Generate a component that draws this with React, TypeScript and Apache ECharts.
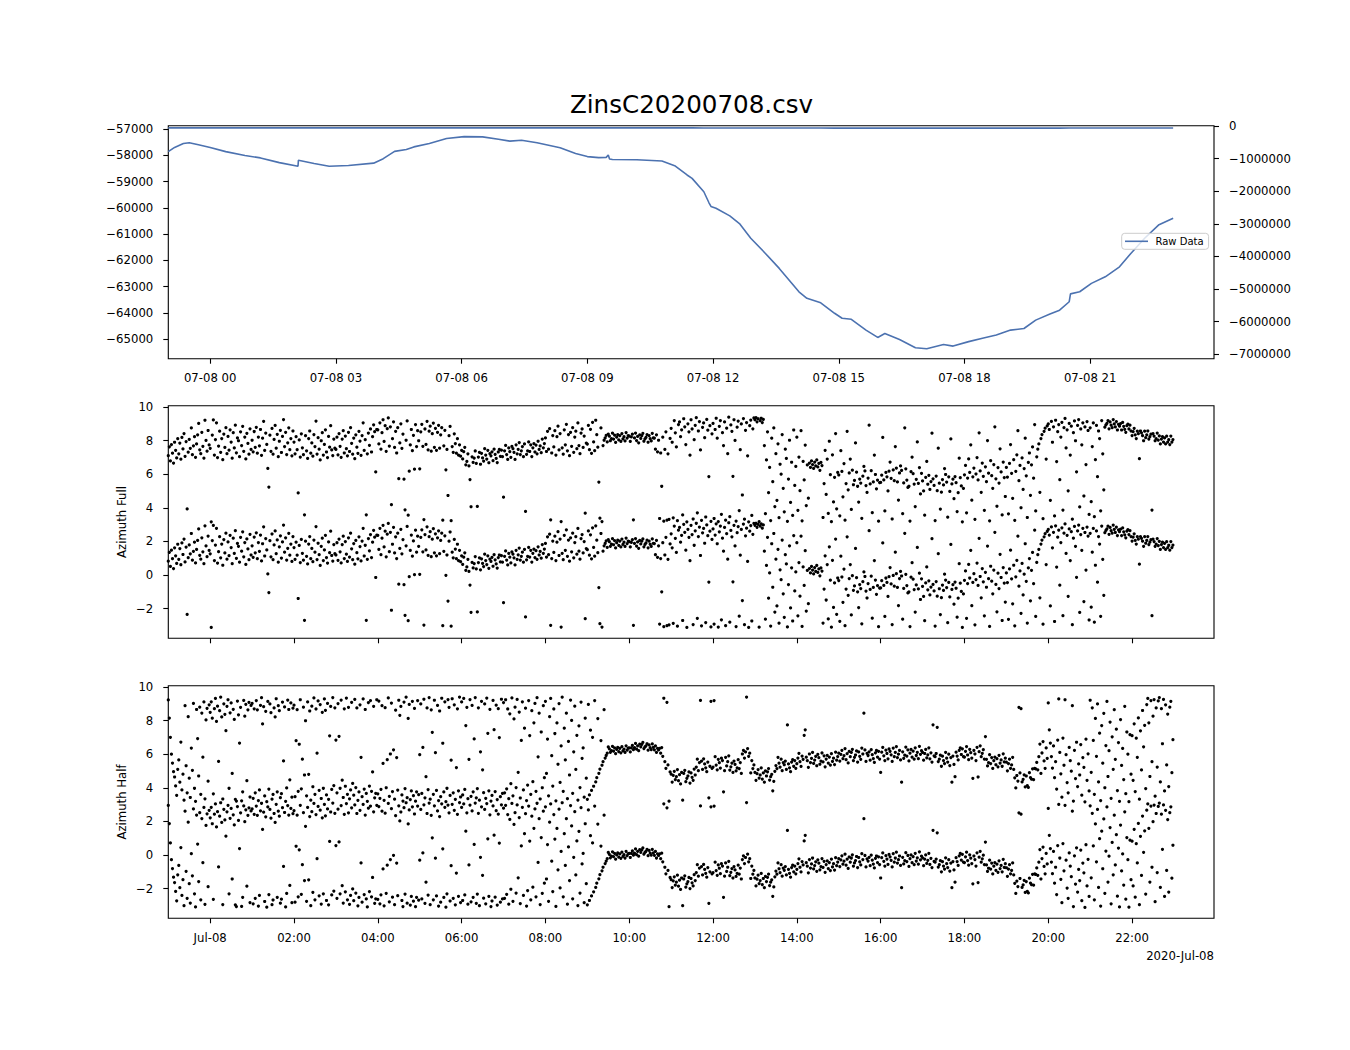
import React, { useEffect, useRef } from "react";
import * as echarts from "echarts";

const TITLE = "ZinsC20200708.csv";
const SERIES_NAME = "Raw Data";
const DATE_OFFSET_LABEL = "2020-Jul-08";
const Y_LABEL_FULL = "Azimuth Full";
const Y_LABEL_HALF = "Azimuth Half";

// hours relative to 2020-07-08 00:00
const RAW_HOURS = [
  -1.0, -0.85, -0.64, -0.5, -0.28, 0.0, 0.37, 0.83, 1.2, 1.65, 2.095, 2.105, 2.48, 2.84, 3.3, 3.9,
  4.13, 4.4, 4.68, 4.86, 5.23, 5.64, 6.06, 6.5, 6.88, 7.15, 7.43, 7.8, 8.35, 8.72, 9.0, 9.27, 9.45,
  9.5, 9.53, 9.6, 10.18, 10.78, 11.1, 11.38, 11.5, 11.78, 11.9, 11.95, 12.07, 12.4, 12.63, 12.9,
  13.25, 13.58, 14.05, 14.24, 14.57, 14.9, 15.08, 15.3, 15.65, 15.93, 16.1, 16.45, 16.83, 17.1,
  17.5, 17.73, 18.1, 18.43, 18.76, 19.1, 19.42, 19.7, 20.04, 20.27, 20.5, 20.53, 20.75, 21.03,
  21.36, 21.7, 21.97, 22.3, 22.63, 22.98,
];
const RAW_VALUES = [
  -57860, -57700, -57550, -57520, -57600, -57700, -57860, -58010, -58100, -58280, -58420, -58190,
  -58310, -58420, -58390, -58300, -58130, -57850, -57780, -57680, -57550, -57360, -57290, -57300,
  -57390, -57460, -57430, -57520, -57710, -57930, -58050, -58090, -58080, -57990, -58140, -58160,
  -58170, -58220, -58410, -58750, -58880, -59390, -59800, -59950, -60020, -60310, -60600, -61160,
  -61740, -62310, -63200, -63450, -63620, -64020, -64210, -64250, -64660, -64940, -64790, -65020,
  -65330, -65370, -65210, -65270, -65100, -64970, -64850, -64660, -64600, -64280, -64050, -63900,
  -63580, -63280, -63200, -62880, -62630, -62250, -61740, -61160, -60660, -60400,
];

const TOP_TICK_HOURS = [0, 3, 6, 9, 12, 15, 18, 21];
const TOP_TICK_LABELS = ["07-08 00", "07-08 03", "07-08 06", "07-08 09", "07-08 12", "07-08 15", "07-08 18", "07-08 21"];
const LOW_TICK_HOURS = [0, 2, 4, 6, 8, 10, 12, 14, 16, 18, 20, 22];
const LOW_TICK_LABELS = ["Jul-08", "02:00", "04:00", "06:00", "08:00", "10:00", "12:00", "14:00", "16:00", "18:00", "20:00", "22:00"];
const LEFT_TICKS = [-65000, -64000, -63000, -62000, -61000, -60000, -59000, -58000, -57000];
const RIGHT_TICKS = [-7000000, -6000000, -5000000, -4000000, -3000000, -2000000, -1000000, 0];
const AZ_TICKS = [-2, 0, 2, 4, 6, 8, 10];

// azimuth samples (radians, in [-pi, pi]) grouped per hour, first row = hour -1 (07-07 23:00)
const FIRST_HOUR = -1;
const AZ_FULL = [
  [0.82, 1.35, 0.51, 1.48, 0.97, 0.38, 1.62, 1.14, 0.69, 1.83, 0.93, 1.57, 0.61, 1.91, 1.22, 2.14, 0.78, 1.66, -2.35, 1.03, 1.79, 1.26, 2.47, 0.88, 1.41, 1.95, 0.72, 1.52, 2.06, 2.74, 1.17, 0.94, 2.21, 1.38, 0.67, 2.93, 1.73, 1.09, 2.32, 1.46],
  [1.26, -3.12, 2.05, 2.95, 0.86, 1.78, 2.78, 0.71, 1.39, 2.28, 1.02, 1.84, 0.58, 2.11, 1.31, 2.49, 0.94, 1.97, 1.15, 2.36, 1.63, 0.67, 2.19, 1.28, 2.64, 0.99, 1.88, 1.71, 0.76, 2.24, 1.42, 2.57, 1.08, 1.93, 0.63, 2.15, 1.55, 0.91, 2.42, 1.19],
  [1.74, 1.05, 2.26, 1.32, 2.51, 0.97, 1.93, 1.41, 2.38, 0.84, 1.86, 2.87, 1.13, 2.17, 1.49, 0.06, -1.05, 2.04, 1.08, 2.44, 0.91, 1.79, 2.62, 1.27, 2.09, 0.76, 1.68, 2.33, 1.01, 1.97, 2.97, 1.36, 2.21, 0.89, 1.59, 2.48, 1.18, 1.84, 0.81, 2.29],
  [1.63, 0.93, 1.95, 1.18, -1.4, 1.76, 0.74, 2.12, 1.29, 0.88, -2.7, 2.01, 1.11, 0.66, 1.84, 2.29, 0.97, 1.58, 0.79, 2.08, 1.36, 2.88, 0.92, 1.89, 1.21, 0.57, 1.71, 2.19, 0.86, 1.49, 2.36, 1.04, 0.71, 1.97, 1.33, 2.61, 1.16, 0.83, 1.81, 1.27],
  [1.19, 1.92, 0.87, 2.14, 1.38, 0.72, 1.81, 2.31, 0.98, 1.99, 1.24, 0.81, 2.21, 1.07, 2.49, 1.56, 0.91, 1.87, 0.64, 2.06, 1.33, 0.96, 2.27, 1.69, 0.84, 2.02, 2.78, 1.13, 1.77, -2.7, 0.93, 2.17, 1.44, 2.41, 1.04, 1.95, 2.66, 2.25, -0.15, 2.38],
  [2.36, 1.52, 2.78, 1.21, 2.19, 2.96, 1.67, 2.61, 1.08, 2.43, 3.07, 1.39, 2.54, -2.1, 1.83, 2.84, 1.31, 2.27, 0.98, 2.49, -0.55, 1.58, 2.72, 1.26, 2.11, -0.58, -2.4, 1.74, 2.89, -2.72, -0.1, 1.46, 2.38, 1.12, 2.03, 0.02, 2.67, 1.36, 2.31, 1.71],
  [0.04, 2.24, 2.69, 1.38, -2.98, 2.41, 1.49, 2.87, 1.17, 2.28, 2.58, 1.09, 2.13, 2.76, 1.32, 2.45, 1.14, 2.21, 2.63, 1.27, 2.06, 2.49, -3.02, 1.41, 2.33, -0.02, 1.19, -1.55, 2.01, 2.56, -3.05, 1.36, 1.02, 2.12, 1.54, 0.97, 1.83, 0.86, 1.47, 0.79],
  [1.14, 0.63, 1.06, 1.32, 0.28, 0.48, 0.93, 0.21, -0.6, -2.22, 0.75, 0.42, 0.68, 1.1, 0.36, -2.2, 0.74, 1.02, 0.31, 0.96, 0.69, 0.5, 1.24, 0.86, 0.62, 1.14, 0.4, 0.94, 0.81, 1.05, 0.52, 1.21, 0.9, 0.66, 0.41, 1.04, 1.19, 0.78, 1.15, 0.76],
  [-1.65, 1.11, 1.43, 0.89, 0.6, 1.28, 1.06, 0.72, 1.37, 1.24, 1.02, 0.6, 1.47, 0.93, 1.2, 1.6, 0.89, 1.11, 1.36, 0.76, 1.52, -2.5, 0.9, 1.11, 1.64, 1.07, 1.47, 0.77, 1.29, 1.54, 1.04, 1.45, 0.93, 1.68, 1.19, 1.4, 1.0, 1.81, 1.29, 1.54],
  [1.88, 1.07, 2.27, 1.21, 2.43, -3.0, 0.98, 2.02, 1.34, 2.31, 0.86, 1.95, 2.58, 1.16, 2.14, -3.1, 1.29, 0.91, 2.36, 1.47, 2.69, 1.11, 2.08, 0.82, 2.21, 1.38, 2.49, 1.02, 1.93, 2.28, 1.24, 2.77, 1.42, 0.94, 2.17, 2.41, 1.31, 1.99, -2.6, 1.57],
  [1.51, 2.62, 1.18, 2.39, 0.96, 2.81, 1.64, 1.12, 2.93, 2.07, 1.33, -0.75, -2.9, 2.47, -3.1, 1.42, 1.74, 1.88, 2.03, 1.64, 2.11, 1.98, 1.71, 1.84, 2.16, 1.8, 2.05, 1.61, 1.92, 2.07, 1.76, 2.01, 1.67, 2.14, 1.82, 1.95, 1.7, 2.2, 1.87, 2.02],
  [1.99, 1.67, 1.94, 2.1, -3.0, 1.88, 2.17, 1.72, 1.97, 1.59, 2.06, 1.85, 2.01, 2.15, 1.68, 1.82, 1.91, 2.07, 1.62, 2.02, 1.83, 1.7, 2.15, 1.88, 1.87, 1.21, 2.06, 1.05, 1.74, -2.92, 0.98, -1.0, 1.92, -3.08, 1.19, 2.24, -3.01, 0.93, -2.97, 1.85],
  [2.45, 1.62, -2.88, 2.91, 2.18, 1.34, -3.05, 2.67, 2.83, 1.95, 2.36, -2.71, 3.02, 2.54, 1.48, -3.12, 2.72, 2.24, 0.85, 2.96, 2.41, -2.95, 1.77, 2.63, 3.08, -2.58, 2.29, 2.85, 1.16, -3.03, 2.51, 2.77, 1.89, -2.83, 2.98, 2.34, -0.42, 2.61, -3.09, 2.12],
  [2.74, -2.92, 2.38, 3.05, 1.86, -3.1, 2.57, 2.91, -2.67, 2.19, 1.42, 2.83, -3.02, 2.46, 0.94, 3.11, -2.81, 2.65, 2.27, -0.41, 2.96, 1.73, -3.07, 2.52, 2.88, -2.45, 1.18, 2.71, -1.52, 3.03, -2.96, 2.33, 2.79, 0.81, -3.12, 2.61, 2.94, -2.74, 2.42, 3.07],
  [2.96, 3.08, 2.84, 3.02, -3.11, 2.91, 3.05, 2.79, 2.98, 1.42, -2.63, 0.57, 2.24, -1.38, 0.12, -3.04, 1.86, -0.73, 2.47, -2.21, 0.94, -1.84, 1.53, -2.87, 0.31, -0.28, 2.08, -1.12, -2.52, 1.21, 0.66, -3.09, -0.57, 1.74, -1.96, 0.43, -2.74, 2.35, -0.95, 0.18],
  [1.92, -2.43, 0.74, -1.26, 2.31, -3.06, 0.48, -0.62, 1.45, -2.15, 0.27, -1.71, 0.38, 0.12, 0.51, 0.29, 0.06, 0.44, 0.21, 0.57, 0.15, 0.36, -0.05, 0.42, 0.23, -2.86, -0.84, 1.14, -1.49, 0.62, -2.62, 1.68, -0.31, -3.11, 0.87, -1.93, -0.47, 2.14, -2.34, -0.18],
  [-0.33, -2.76, 1.12, -0.12, -1.63, 0.35, -3.02, -0.84, 2.27, -1.21, -0.21, 0.62, -2.38, -0.04, -0.91, -0.65, 1.58, -0.16, -1.0, -1.94, -0.57, -0.81, -2.91, -0.4, 0.18, -0.09, -0.96, -1.37, -0.51, 2.64, -0.86, -0.07, -2.57, -0.74, 0.86, -0.3, -1.15, -0.63, -3.08, -0.78],
  [-0.77, -0.34, 1.91, -0.62, -2.47, -0.18, -0.44, -1.28, -0.1, 0.44, -0.53, -2.95, -0.03, -0.67, 1.36, 0.08, -0.74, -1.82, -0.21, 0.21, -0.06, -2.63, -0.8, 2.48, 0.04, -0.63, -1.07, -1.0, -3.07, -0.13, 0.73, -0.25, -0.87, -2.21, -0.59, 1.64, -0.83, 0.11, -1.46, -0.23],
  [-0.68, -1.28, -2.72, -0.47, 0.48, -0.88, -0.35, -1.19, -0.72, 2.16, -0.56, -0.95, -3.04, -0.39, -1.26, 1.27, -0.82, -2.36, -1.35, -0.6, -0.92, 0.05, -0.3, -0.75, -2.84, -0.44, -1.31, 1.82, -0.86, -0.58, -1.74, -0.42, -0.79, -2.51, -1.38, 0.67, -0.49, -0.98, -3.12, -1.13],
  [-0.32, 0.24, -2.58, -0.51, 0.63, -0.18, 1.47, -1.83, -0.44, 0.08, -2.97, -0.27, 0.71, -0.62, 2.18, -0.09, -1.36, 0.38, -0.41, -2.43, 0.16, -0.73, 1.72, -0.22, -3.06, 0.52, -0.37, -1.12, 0.29, 2.54, -0.56, -2.19, 0.11, -0.81, 1.23, -0.15, -2.71, 0.44, -0.48, -1.61],
  [0.12, -0.45, -2.64, 0.36, 1.48, -0.23, -1.72, 0.58, -3.03, -0.11, 0.87, 2.31, -0.67, 0.24, -2.28, 0.69, -1.19, 0.05, 1.86, -0.38, -2.86, 0.42, 0.98, -1.54, 0.28, 1.34, -0.52, 2.67, -2.47, 0.75, 1.21, 1.52, -1.36, 1.84, 2.08, -2.93, 2.27, 2.46, 0.62, 2.59],
  [2.71, 2.38, -1.84, 2.86, 1.62, 2.54, -2.77, 2.93, 0.47, 2.25, 2.67, -0.61, 1.93, 2.81, -2.42, 2.49, 3.04, 1.28, 2.36, -1.27, 2.74, 0.86, 2.58, -2.96, 2.19, 2.89, 1.71, -0.14, 2.62, 2.97, -2.23, 2.41, 1.47, 2.78, -1.58, 2.53, 0.29, 2.85, 2.32, -2.68],
  [2.48, -1.92, 1.36, 2.77, -2.81, 0.58, 2.62, -0.43, 2.29, 1.84, -2.46, 2.91, 0.93, -1.21, 2.52, 2.65, 2.75, 2.91, 2.42, 2.83, 2.64, 2.49, 2.97, 2.71, 2.53, 2.85, 2.35, 2.69, 2.58, 2.73, 2.35, 2.8, 2.57, 2.39, 2.21, 2.61, 2.7, 2.41, 2.64, 2.29],
  [2.02, 2.25, 2.45, 2.06, 1.84, 2.28, 2.13, 0.64, 2.29, 2.18, 2.01, 1.71, 2.28, 1.89, 2.06, 2.29, 1.81, 1.95, 2.1, -2.42, 2.14, 1.99, 1.71, 1.84, 2.17, 1.75, 2.0, 1.52, 1.81, 1.96, 1.63, 1.88, 1.52, 1.98, 1.63, 1.77, 1.48, 1.99, 1.63, 1.78],
];
const AZ_HALF = [
  [2.95, 1.87, 0.72, -0.28, -0.81, -1.32, -1.64, -2.17, -2.73, -1.18, -0.62, -1.95, 0.44, -2.41, -1.47, -3.02, 2.61, -0.97, -2.58, 1.95, -1.71, -2.86, 0.08, -1.24, 2.74, -2.31, -3.09, 2.38, 0.65, -1.58, 2.52, -2.67, 2.17, -0.46, 2.83, -2.94, 1.76, 2.45, -1.89, 2.66],
  [2.21, 2.84, 1.86, -2.64, 2.43, 3.04, 1.67, 2.58, -0.71, 2.31, 3.11, 1.94, -2.95, 2.72, 2.09, 1.12, 2.57, 2.96, -2.31, 2.18, 2.77, -1.43, 2.39, 1.79, -2.97, -3.07, 2.88, 2.06, 0.38, 2.51, -3.06, -2.52, 2.92, 1.98, 2.69, -1.86, 2.36, 2.81, -2.83, 2.62],
  [2.74, -2.91, 2.42, -2.58, 2.91, 2.36, -3.04, -2.41, 2.63, 3.08, 1.52, 2.55, -2.77, 2.27, -3.11, 2.86, -2.36, 2.71, 2.19, -2.96, -2.68, 2.47, 1.94, 3.02, -2.52, 2.61, 2.31, -2.87, -2.63, 2.82, -0.68, 2.53, -3.09, -2.29, 2.94, 2.38, -1.81, 2.77, -2.84, 2.46],
  [2.64, -2.81, 0.52, 2.37, -2.49, 0.31, 2.96, -2.34, -0.58, 2.52, -1.52, 1.71, -2.76, 2.83, -1.48, 2.29, -3.02, 2.58, -2.22, 3.07, -2.67, 2.41, -0.22, 2.89, -2.43, 2.67, -2.92, 2.21, -2.31, 3.01, 2.33, -2.71, 2.74, -2.97, 0.81, 2.56, -2.38, 3.09, -2.15, 2.48],
  [0.56, -2.58, 2.73, 0.78, -2.31, 2.94, -1.83, -2.86, 2.42, -2.19, 3.06, -2.67, 2.51, -2.94, -2.41, 2.81, -2.02, -2.72, 2.98, -2.27, 2.47, -3.03, -2.53, 2.66, -0.47, -2.81, 3.01, -2.36, 2.38, -2.62, -3.09, 2.79, -2.18, 2.91, -2.49, -1.34, 2.57, -2.88, -2.61, 2.96],
  [-2.64, 2.88, -2.91, -2.37, 2.61, -0.83, -3.03, 2.49, -2.28, -0.61, 3.07, -2.79, -0.27, 2.76, -2.51, -0.02, -2.96, 2.34, -0.48, -2.42, 2.93, 2.03, 2.56, -2.71, -3.07, 2.82, -2.33, 3.11, -2.87, 1.85, 2.68, -2.98, -2.47, 2.87, -2.75, 2.44, -3.08, -2.52, 2.91, -2.69],
  [-0.31, 2.71, -2.62, 0.12, 2.99, -2.88, -1.62, 2.47, -2.39, 3.09, -2.96, 2.36, 1.02, -2.67, 2.93, -0.19, -2.44, 2.62, -3.04, 2.29, -2.81, 3.05, 0.37, -2.53, 2.84, -3.11, -2.31, 2.97, 2.51, -2.74, -0.64, 3.02, -2.58, 2.66, -2.97, -1.08, 2.42, -2.46, 3.12, -2.83],
  [2.83, -2.71, 3.04, -2.38, 1.42, 2.51, -2.93, -0.59, 2.97, -2.79, 2.62, -2.52, 0.63, 3.09, -2.88, -2.33, 2.48, -3.02, -0.14, 2.87, -1.21, -2.57, 2.71, -2.91, 3.06, 0.96, -2.46, 2.39, -3.07, -2.74, 2.92, 1.18, -2.51, 2.64, -2.98, 2.43, 0.71, -2.81, 2.99, -2.62],
  [2.79, -2.58, 2.96, -2.34, 2.41, -2.93, 2.12, -2.04, 3.07, -2.76, 1.82, 2.52, -2.27, 2.98, -1.36, 2.23, -2.89, 0.54, 2.84, -2.41, 1.27, 2.46, -3.04, -2.12, 2.91, 0.83, -2.67, 2.31, -1.92, 1.59, 2.74, -2.49, 3.08, -0.44, 2.16, -2.95, 1.04, -2.28, 2.61, -1.68],
  [2.87, -1.43, 0.62, -2.76, 1.95, 3.04, -0.37, -2.18, 2.41, 0.95, -3.06, 1.58, -0.88, 2.73, -1.96, 0.21, 3.11, -2.49, 1.27, -0.62, 2.16, -2.93, 0.48, -1.52, 2.94, 1.73, -2.61, -0.14, 2.58, -1.19, 0.84, -3.01, 1.41, -2.27, 2.82, -0.53, 0.09, -2.84, 1.86, -1.71],
  [-2.97, 2.68, -2.71, 1.15, -2.44, 0.72, -2.19, 2.91, -1.93, -1.68, 1.84, -1.42, -1.17, 0.53, -0.94, -0.73, 2.37, -0.51, -0.36, -0.22, 0.15, 0.04, -0.17, -0.07, 0.19, -0.1, 0.1, -0.25, 0.0, 0.12, -0.13, 0.06, -0.2, 0.17, -0.08, 0.02, -0.18, 0.22, -0.04, 0.08],
  [0.09, -0.15, 0.09, 0.24, -0.01, 0.11, 0.36, 0.02, 0.22, -0.07, 0.32, 0.16, 0.3, 0.42, 0.05, 0.15, 0.22, 0.34, -0.04, 0.27, 0.11, -0.01, 0.33, 0.12, -0.02, 0.21, -0.18, 0.07, -0.03, 0.07, -0.22, 0.11, -0.41, 3.05, -0.73, -1.12, 2.81, -0.92, -3.08, -1.34],
  [-1.47, -1.94, -1.54, -1.3, -1.8, -1.62, -1.2, -1.86, -1.5, -2.05, -1.37, -3.02, -1.43, -1.24, -1.92, -1.72, -1.58, -1.34, -2.0, -1.4, -1.66, -1.84, -1.17, -1.52, -1.05, -0.58, -1.26, -0.78, 2.92, -0.69, -1.19, -0.56, -0.86, -1.09, -1.32, -0.75, -2.88, -1.0, 2.87, -1.12],
  [-1.05, 2.91, -0.43, -0.93, -1.21, -0.59, -0.79, -1.11, -0.52, -0.66, -2.52, -1.26, -0.47, -0.98, -0.73, -0.38, -1.23, -1.03, -0.81, -1.37, -0.69, -0.89, -1.28, -1.09, -0.61, -1.14, -0.78, -1.43, -0.27, -0.05, -0.51, -0.15, 3.12, 0.05, -0.41, -0.22, -1.4, -0.66, -1.14, -0.92],
  [-1.37, -1.84, -1.44, -1.2, -1.7, -1.52, -1.1, -1.76, -1.4, -1.95, -1.27, -1.58, -1.33, -1.14, -1.82, -1.62, -1.48, -2.46, -1.9, -1.3, -0.96, -1.14, -0.47, -0.82, -1.05, -0.58, -1.26, -0.78, -0.91, -0.69, -1.19, 1.46, -0.86, -1.09, -1.32, -0.75, -0.61, -1.0, -0.66, -1.12],
  [-0.85, -0.51, -0.23, -0.73, -1.01, -0.39, -0.59, 0.84, 1.17, -0.46, -0.67, -1.06, -0.27, -0.78, -0.53, -0.18, -0.83, -0.63, -0.41, -0.97, -0.29, -0.49, -0.88, -0.69, -0.21, -0.74, -0.38, -1.03, -0.57, -0.35, -0.81, -0.45, -0.93, -0.25, -0.71, -0.52, -0.9, -0.16, -0.64, -0.42],
  [-0.22, -0.69, -0.29, -0.05, -0.55, -0.37, 0.05, -0.61, -0.25, -0.8, -0.12, -0.43, -0.18, 0.01, -0.67, -0.47, -0.33, -0.09, -0.75, -0.15, -0.41, -0.59, 0.08, -0.27, 2.16, -0.03, -0.71, -0.23, -0.36, -0.14, -0.64, -0.01, -0.31, -0.54, -0.77, -0.2, -0.06, -0.45, -0.11, -0.57],
  [-1.37, -0.16, 0.12, -0.38, -0.66, -0.04, -0.24, -0.56, 0.03, -0.11, -0.32, -0.71, 0.08, -0.43, -0.18, 0.17, -0.48, -0.28, -0.06, -0.62, -1.95, -0.14, -0.53, -0.34, 0.14, -0.39, -0.03, -0.68, -0.22, 0.0, -0.46, -0.1, -0.58, 0.1, -0.36, -0.17, -0.55, 0.19, -0.29, -0.07],
  [-0.17, -0.64, -0.24, 0.0, -0.5, -0.32, 0.1, -0.56, -0.2, -0.75, 1.47, -0.38, -0.43, -0.24, 1.32, -0.72, -0.58, -0.34, -1.0, -0.4, -0.66, -0.84, -0.17, -0.52, -0.75, -0.28, -0.96, -0.48, -1.95, -0.39, -0.89, -1.62, -0.16, -0.39, -0.62, -0.05, 0.09, -0.3, 0.04, -0.42],
  [-0.45, -0.11, 0.17, -0.33, -0.61, 0.01, -0.19, -0.51, -1.72, -0.06, -0.27, -0.66, 0.13, -1.64, -0.13, 0.22, -0.43, -0.23, -0.01, -0.57, 0.77, -0.59, -0.98, -0.79, -0.31, -0.84, -0.48, -1.13, -0.67, -0.45, -0.91, -0.55, -1.03, -0.35, -0.81, -0.62, -1.0, -0.26, -0.74, -0.52],
  [-0.76, -1.27, -0.84, -0.58, -1.12, -0.92, -0.47, -1.19, -1.69, -2.29, -1.55, -1.88, 2.51, -1.4, 2.43, -1.93, -1.78, -1.51, -2.23, -1.58, -2.16, -2.26, -1.38, -1.67, -1.77, -1.15, -1.8, -1.12, -1.16, -0.77, -1.21, -0.43, 0.32, -1.43, -0.21, 0.47, -0.68, -1.12, 0.09, -0.53],
  [2.77, 1.17, 0.38, -0.42, -1.11, 0.21, -1.68, -0.73, -2.36, 0.56, 3.01, -0.18, -1.45, -2.84, 0.68, -0.94, 2.96, -0.31, -1.97, -2.58, 0.12, -0.67, -1.29, 2.61, -3.07, -0.05, -1.73, 0.43, -2.21, -0.86, -1.52, 0.29, -2.72, -0.48, -1.06, -3.12, 0.61, -1.84, -0.26, -2.47],
  [2.93, -1.36, 2.48, 0.54, -2.67, 1.85, -0.41, 2.71, -1.93, 0.97, -3.04, 1.42, -0.82, 2.15, -2.28, 0.23, 2.86, -1.61, -0.07, 1.63, -2.91, 0.75, -1.18, 2.37, -0.59, 1.21, -2.45, 0.41, -3.09, 1.78, -0.95, 0.06, -1.79, 2.57, -2.63, 1.04, -0.28, -3.11, 0.88, -1.47],
  [0.82, -1.84, 1.53, -2.51, 0.67, -0.47, 1.88, -2.96, 1.11, -1.22, 2.32, 0.16, 1.44, -2.33, 2.67, 3.04, 1.59, -1.61, 2.91, -0.73, 1.98, 2.97, -2.78, 2.47, -1.05, 2.89, 3.09, -1.93, 2.43, 0.34, 2.98, -2.47, 2.66, -0.92, 2.11, -2.21, 2.52, 2.87, -1.38, 0.58],
];

// each azimuth is drawn on two turns: a and a + 2*pi
const TURN = 2 * Math.PI;

function azimuthPoints(rows: number[][]): number[][] {
  const pts: number[][] = [];
  rows.forEach((row, r) => {
    const hour = FIRST_HOUR + r;
    row.forEach((a, j) => {
      const t = hour + j / row.length;
      pts.push([t, a]);
      pts.push([t, a + TURN]);
    });
  });
  return pts;
}

const minus = (v: number) => (v < 0 ? "\u2212" + String(-v) : String(v));

export default function App() {
  const ref = useRef<HTMLDivElement>(null);
  useEffect(() => {
    if (!ref.current) return;
    const chart = echarts.init(ref.current, undefined, { renderer: "svg" });
    const FONT = "DejaVu Sans";
    const LINE_COLOR = "#4c72b0";
    const tickStyle = { show: true, length: 5, lineStyle: { color: "#000", width: 1.1 } };
    const labelBase = { color: "#000", fontFamily: FONT, fontSize: 11.7 };
    const rawData = RAW_HOURS.map((h, i) => [h, RAW_VALUES[i]]);
    const gridBase = {
      left: 168.3,
      width: 1045.7,
      show: true,
      borderColor: "#000",
      borderWidth: 1.1,
      backgroundColor: "rgba(0,0,0,0)",
      containLabel: false,
    };
    const xAxes = [0, 1, 2].map((i) => {
      const ticks = i === 0 ? TOP_TICK_HOURS : LOW_TICK_HOURS;
      const labels = i === 0 ? TOP_TICK_LABELS : LOW_TICK_LABELS;
      return {
        type: "value",
        gridIndex: i,
        position: "bottom",
        min: -1.0,
        max: 23.955,
        axisLine: { show: false, onZero: false },
        splitLine: { show: false },
        axisTick: { ...tickStyle, customValues: ticks },
        axisLabel: {
          ...labelBase,
          show: i !== 1,
          customValues: ticks,
          margin: 19.5,
          verticalAlign: "middle",
          formatter: (v: number) => {
            const k = ticks.indexOf(Math.round(v));
            return k >= 0 ? labels[k] : "";
          },
        },
      };
    });
    const yBase = (gridIndex: number, min: number, max: number, ticks: number[], position: string) => ({
      type: "value",
      gridIndex,
      min,
      max,
      position,
      axisLine: { show: false, onZero: false },
      splitLine: { show: false },
      axisTick: { ...tickStyle, customValues: ticks },
      axisLabel: { ...labelBase, customValues: ticks, margin: 15, formatter: (v: number) => minus(v) },
    });
    const option = {
      animation: false,
      backgroundColor: "#ffffff",
      grid: [
        { ...gridBase, top: 125.7, height: 233 },
        { ...gridBase, top: 405.7, height: 232.6 },
        { ...gridBase, top: 685.7, height: 232.6 },
      ],
      xAxis: xAxes,
      yAxis: [
        yBase(0, -65750, -56873, LEFT_TICKS, "left"),
        yBase(0, -7135000, 9000, RIGHT_TICKS, "right"),
        yBase(1, -3.77, 10.08, AZ_TICKS, "left"),
        yBase(2, -3.77, 10.08, AZ_TICKS, "left"),
      ],
      legend: {
        data: [SERIES_NAME],
        left: 1121.7,
        top: 233.3,
        icon: "rect",
        itemWidth: 23,
        itemHeight: 1.6,
        padding: [2, 5, 2, 3.3],
        backgroundColor: "rgba(255,255,255,0.8)",
        borderColor: "#cccccc",
        borderWidth: 1,
        borderRadius: 3,
        textStyle: { color: "#000", fontFamily: FONT, fontSize: 10, lineHeight: 12, padding: [0, 0, 0, 2.5] },
      },
      series: [
        {
          name: SERIES_NAME,
          type: "line",
          xAxisIndex: 0,
          yAxisIndex: 0,
          data: rawData,
          symbol: "none",
          lineStyle: { color: LINE_COLOR, width: 1.6 },
          itemStyle: { color: LINE_COLOR },
          silent: true,
          z: 3,
        },
        {
          name: SERIES_NAME + " (right axis)",
          type: "line",
          xAxisIndex: 0,
          yAxisIndex: 1,
          data: rawData,
          symbol: "none",
          lineStyle: { color: LINE_COLOR, width: 1.6 },
          itemStyle: { color: LINE_COLOR },
          silent: true,
          z: 3,
        },
        {
          name: Y_LABEL_FULL,
          type: "scatter",
          xAxisIndex: 1,
          yAxisIndex: 2,
          data: azimuthPoints(AZ_FULL),
          symbol: "circle",
          symbolSize: 3.2,
          itemStyle: { color: "#000", opacity: 1 },
          large: false,
          progressive: 0,
          silent: true,
        },
        {
          name: Y_LABEL_HALF,
          type: "scatter",
          xAxisIndex: 2,
          yAxisIndex: 3,
          data: azimuthPoints(AZ_HALF),
          symbol: "circle",
          symbolSize: 3.2,
          itemStyle: { color: "#000", opacity: 1 },
          large: false,
          progressive: 0,
          silent: true,
        },
      ],
      graphic: [
        {
          type: "text",
          x: 691.5,
          y: 104.5,
          style: { text: TITLE, fill: "#000", fontFamily: FONT, fontSize: 24.6, align: "center", verticalAlign: "middle" },
        },
        {
          type: "text",
          x: 121.7,
          y: 522,
          rotation: Math.PI / 2,
          style: { text: Y_LABEL_FULL, fill: "#000", fontFamily: FONT, fontSize: 11.7, align: "center", verticalAlign: "middle" },
        },
        {
          type: "text",
          x: 121.7,
          y: 802,
          rotation: Math.PI / 2,
          style: { text: Y_LABEL_HALF, fill: "#000", fontFamily: FONT, fontSize: 11.7, align: "center", verticalAlign: "middle" },
        },
        {
          type: "text",
          x: 1214,
          y: 956,
          style: { text: DATE_OFFSET_LABEL, fill: "#000", fontFamily: FONT, fontSize: 11.7, align: "right", verticalAlign: "middle" },
        },
      ],
    };
    chart.setOption(option as any);
    return () => chart.dispose();
  }, []);
  return (
    <div
      ref={ref}
      style={{ position: "absolute", left: 0, top: 0, width: 1350, height: 1050, background: "#fff" }}
    />
  );
}
